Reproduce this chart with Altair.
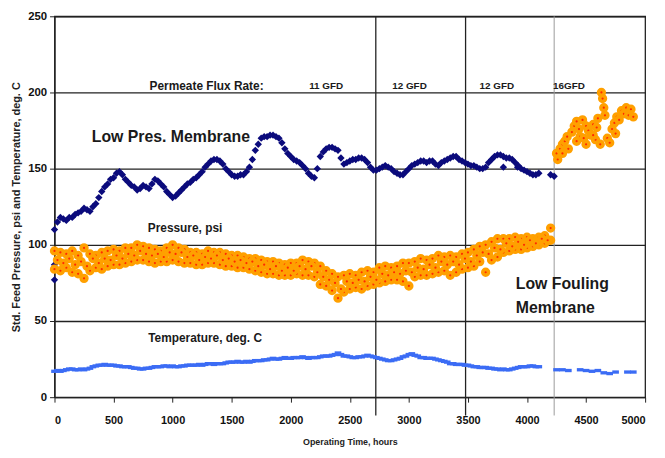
import altair as alt
import pandas as pd

# ---------------- data ----------------
# Low Pres. Membrane (navy diamonds)
navy_hours = [0, 50, 100, 150, 200, 250, 300, 350, 400, 450, 500, 550, 600, 650, 700, 750, 800, 850, 900, 950,
              1000, 1050, 1100, 1150, 1200, 1250, 1300, 1350, 1400, 1450, 1500, 1550, 1600, 1650, 1700, 1750,
              1800, 1850, 1900, 1950, 2000, 2050, 2100, 2150, 2200, 2250, 2300, 2350, 2400, 2450, 2500, 2550,
              2600, 2650, 2700, 2750, 2800, 2850, 2900, 2950, 3000, 3050, 3100, 3150, 3200, 3250, 3300, 3350,
              3400, 3450, 3500, 3550, 3600, 3650, 3700, 3750, 3800, 3850, 3900, 3950, 4000, 4050, 4100,
              4200, 4230, 0, 0, 3920, 3800]
navy_vals = [110, 118, 116, 118, 121, 124, 122, 127, 135, 140, 144, 148, 143, 139, 136, 139, 137, 143, 140, 135,
             131, 134, 138, 141, 144, 148, 153, 156, 155, 150, 146, 145, 146, 151, 162, 170,
             171, 172, 170, 163, 158, 155, 152, 147, 144, 158, 163, 164, 162, 153, 155, 156,
             157, 154, 149, 150, 152, 150, 147, 146, 150, 153, 155, 154, 155, 152, 155, 157,
             158, 155, 153, 152, 150, 151, 156, 159, 158, 157, 154, 150, 148, 146, 147,
             146, 145, 87, 77, 151, 151]
navy_mid_hours = [25, 75, 125, 175, 225, 275, 325, 375, 425, 475, 525, 575, 625, 675, 725, 775, 825, 875, 925, 975,
                  1025, 1075, 1125, 1175, 1225, 1275, 1325, 1375, 1425, 1475, 1525, 1575, 1625, 1675, 1725, 1775,
                  1825, 1875, 1925, 1975, 2025, 2075, 2125, 2175, 2225, 2275, 2325, 2375, 2425, 2475, 2525, 2575,
                  2625, 2675, 2725, 2775, 2825, 2875, 2925, 2975, 3025, 3075, 3125, 3175, 3225, 3275, 3325, 3375,
                  3425, 3475, 3525, 3575, 3625, 3675, 3725, 3775, 3825, 3875, 3925, 3975, 4025, 4075]
navy_mid_vals = [115, 117, 118, 120, 122, 123, 125, 131, 138, 143, 147, 146, 141, 138, 137, 138, 140, 142, 138, 133,
                 132, 136, 140, 143, 146, 151, 155, 156, 153, 148, 145, 146, 148, 156, 166, 171,
                 172, 171, 167, 160, 156, 154, 150, 145, 150, 161, 164, 163, 157, 154, 156, 157,
                 156, 151, 149, 151, 151, 148, 146, 148, 152, 154, 155, 155, 153, 154, 156, 158,
                 156, 154, 152, 151, 150, 154, 158, 159, 157, 156, 152, 149, 147, 146]

# Pressure, psi (orange) - upper edge, lower edge and middle of the band
pres_hours = [0, 50, 100, 150, 200, 250, 300, 350, 400, 450, 500, 550, 600, 650, 700, 750, 800, 850, 900, 950,
              1000, 1050, 1100, 1150, 1200, 1250, 1300, 1350, 1400, 1450, 1500, 1550, 1600, 1650, 1700, 1750,
              1800, 1850, 1900, 1950, 2000, 2050, 2100, 2150, 2200, 2250, 2300, 2350, 2400, 2450, 2500, 2550,
              2600, 2650, 2700, 2750, 2800, 2850, 2900, 2950, 3000, 3050, 3100, 3150, 3200, 3250, 3300, 3350,
              3400, 3450, 3500, 3550, 3600, 3650, 3700, 3750, 3800, 3850, 3900, 3950, 4000, 4050, 4100, 4150,
              4200]
pres_hi = [96, 95, 94, 96, 93, 98, 94, 93, 95, 96, 97, 96, 98, 98, 100, 99, 98, 97, 96, 98,
           100, 98, 97, 95, 95, 94, 96, 95, 95, 94, 93, 93, 92, 91, 91, 90,
           89, 89, 88, 87, 88, 88, 90, 89, 88, 86, 83, 81, 79, 80, 81, 80,
           82, 83, 82, 85, 86, 85, 86, 88, 88, 89, 91, 90, 91, 93, 92, 93,
           92, 94, 95, 97, 99, 100, 102, 104, 104, 104, 105, 104, 105, 104, 105, 106,
           111]
pres_lo = [84, 83, 85, 82, 81, 78, 83, 85, 84, 86, 87, 87, 88, 89, 90, 90, 89, 88, 89, 89,
           90, 89, 88, 88, 87, 87, 88, 88, 87, 86, 86, 85, 85, 84, 83, 82,
           81, 81, 80, 80, 80, 81, 80, 80, 79, 74, 73, 70, 65, 69, 71, 72,
           71, 73, 74, 75, 76, 77, 77, 76, 73, 79, 80, 80, 81, 82, 83, 80,
           82, 84, 85, 86, 89, 82, 90, 92, 95, 96, 97, 97, 98, 99, 100, 101,
           103]
pres_mid_hours = [25, 75, 125, 175, 225, 275, 325, 375, 425, 475, 525, 575, 625, 675, 725, 775, 825, 875, 925, 975,
                  1025, 1075, 1125, 1175, 1225, 1275, 1325, 1375, 1425, 1475, 1525, 1575, 1625, 1675, 1725, 1775,
                  1825, 1875, 1925, 1975, 2025, 2075, 2125, 2175, 2225, 2275, 2325, 2375, 2425, 2475, 2525, 2575,
                  2625, 2675, 2725, 2775, 2825, 2875, 2925, 2975, 3025, 3075, 3125, 3175, 3225, 3275, 3325, 3375,
                  3425, 3475, 3525, 3575, 3625, 3675, 3725, 3775, 3825, 3875, 3925, 3975, 4025, 4075, 4125, 4175]
pres_mid_vals = [90, 88, 91, 87, 89, 86, 91, 88, 91, 90, 93, 91, 94, 93, 96, 94, 93, 94, 92, 95,
                 94, 95, 92, 93, 90, 92, 91, 93, 90, 91, 89, 90, 88, 89, 86, 87,
                 84, 86, 83, 85, 83, 86, 84, 86, 82, 79, 77, 75, 71, 76, 75, 77,
                 76, 79, 77, 81, 80, 82, 81, 83, 82, 85, 84, 87, 85, 89, 87, 89,
                 87, 91, 89, 93, 95, 94, 98, 97, 101, 99, 102, 100, 103, 101, 104, 103]
# high-flux period (16 GFD)
pres16_hours = [4250, 4260, 4280, 4300, 4300, 4320, 4340, 4350, 4380, 4400, 4420, 4440, 4450, 4470, 4480,
                4500, 4520, 4540, 4560, 4580, 4590, 4600, 4630, 4640, 4650, 4660, 4680, 4700, 4720, 4740,
                4760, 4780, 4800, 4820, 4840, 4860, 4880, 4900, 4420, 4500, 4560, 4620, 4750]
pres16_vals = [160, 156, 163, 166, 160, 168, 171, 163, 174, 178, 181, 176, 171, 182, 170,
               178, 175, 172, 179, 169, 177, 183, 200, 196, 190, 185, 170, 167, 176, 180,
               184, 182, 188, 186, 190, 185, 189, 184, 168, 166, 172, 166, 173]

# Temperature, deg. C (blue dashes)
temp_hours = [0, 50, 100, 150, 200, 250, 300, 350, 400, 450, 500, 550, 600, 650, 700, 750, 800, 850, 900, 950,
              1000, 1050, 1100, 1150, 1200, 1250, 1300, 1350, 1400, 1450, 1500, 1550, 1600, 1650, 1700, 1750,
              1800, 1850, 1900, 1950, 2000, 2050, 2100, 2150, 2200, 2250, 2300, 2350, 2400, 2450, 2500, 2550,
              2600, 2650, 2700, 2750, 2800, 2850, 2900, 2950, 3000, 3050, 3100, 3150, 3200, 3250, 3300, 3350,
              3400, 3450, 3500, 3550, 3600, 3650, 3700, 3750, 3800, 3850, 3900, 3950, 4000, 4050, 4100,
              4250, 4300, 4350, 4450, 4500, 4550, 4600, 4650, 4700, 4750, 4850, 4900]
temp_vals = [17, 17, 18, 18.5, 18, 18, 19, 20.5, 21, 21, 21, 20.5, 20, 19.5, 19, 18.5, 19, 20, 20, 20.5,
             20.5, 20, 20.5, 21, 21, 21, 22, 21.5, 22, 22.5, 23, 23.5, 23, 23, 24, 24,
             24.5, 25.5, 25, 26, 25.5, 26, 26.5, 25.5, 26, 26.5, 27, 27.5, 29, 27, 26.5, 26,
             26.5, 27.5, 26.5, 25.5, 24.5, 24, 25, 26.5, 28, 27.5, 26, 25.5, 25.5, 24.5, 23.5, 22,
             21.5, 21.5, 21, 20, 19.5, 19.5, 19, 18.5, 18.5, 18, 19, 20, 20, 20.5, 20,
             18, 18, 17.5, 18, 17.5, 17, 17.5, 16, 15.5, 16.5, 16.5, 16.5]
temp_mid_hours = navy_mid_hours
temp_mid_vals = [17.5, 17.5, 18.5, 18, 18.5, 18.5, 20, 21, 21.5, 21, 20.5, 20, 20, 19, 18.5, 19, 19.5, 20, 20.5, 20,
                 20, 20.5, 21, 21, 21.5, 21.5, 22, 22, 22, 23, 23, 23, 23.5, 23.5, 24, 24.5,
                 25, 25, 25.5, 25.5, 26, 26, 26, 26, 26, 27, 27, 28, 28, 27, 26, 26.5,
                 27, 27, 26, 25, 24, 24.5, 25.5, 27, 28.5, 27, 26, 25.5, 25, 24, 23, 22,
                 21.5, 21, 20.5, 20, 19.5, 19, 18.5, 18, 18, 18.5, 19.5, 20, 20.5, 20]

# vertical separators between flux periods
sep_hours = [2720, 3480]
sep16_hours = [4230]

# annotation texts
flux_labels = ["11 GFD", "12 GFD", "12 GFD", "16GFD"]
flux_hours = [2300, 3005, 3745, 4355]

assert len(navy_hours) == len(navy_vals)
assert len(navy_mid_hours) == len(navy_mid_vals)
assert len(pres_hours) == len(pres_hi) == len(pres_lo)
assert len(pres_mid_hours) == len(pres_mid_vals)
assert len(pres16_hours) == len(pres16_vals)
assert len(temp_hours) == len(temp_vals)
assert len(temp_mid_hours) == len(temp_mid_vals)

# ---------------- chart ----------------
FONT = "Liberation Sans"

xs = alt.Scale(domain=[0, 5000], nice=False, zero=False)
ys = alt.Scale(domain=[0, 250], nice=False)

x_axis = alt.Axis(values=list(range(0, 5001, 500)), format="d", title="Operating Time, hours", grid=False,
                  labelFont=FONT, labelFontSize=11, labelFontWeight="bold", labelColor="#111",
                  titleFont=FONT, titleFontSize=9, titleFontWeight="bold", titleColor="#222",
                  tickSize=5, tickColor="#222", domainColor="#222", domainWidth=1.3,
                  labelPadding=13, titlePadding=12)
y_axis = alt.Axis(values=[0, 50, 100, 150, 200, 250], format="d",
                  title="Std. Feed Pressure, psi and Temperature, deg. C",
                  grid=True, gridColor="#222", gridWidth=1.3, gridOpacity=1,
                  labelFont=FONT, labelFontSize=11.5, labelFontWeight="bold", labelColor="#111",
                  titleFont=FONT, titleFontSize=11, titleFontWeight="bold", titleColor="#222",
                  tickSize=5, tickColor="#222", domainColor="#222", domainWidth=1.3,
                  labelPadding=3, titlePadding=6)

X = alt.X("h:Q", scale=xs, axis=x_axis)
Y = alt.Y("v:Q", scale=ys, axis=y_axis)

navy_df = pd.DataFrame({"h": navy_hours + navy_mid_hours, "v": navy_vals + navy_mid_vals})
pres_df = pd.DataFrame({"h": pres_hours + pres_hours + pres_mid_hours + pres16_hours,
                        "v": pres_hi + pres_lo + pres_mid_vals + pres16_vals})
temp_df = pd.DataFrame({"h": temp_hours + temp_mid_hours, "v": temp_vals + temp_mid_vals})

navy = alt.Chart(navy_df).mark_point(shape="diamond", filled=True, color="#0b0b7c", size=55, opacity=1).encode(
    x=X, y=Y)

pres = alt.Chart(pres_df).mark_circle(size=34, color="#ff2a00", stroke="#ffa000", strokeWidth=3.6, opacity=1).encode(
    x=X, y=Y)

temp = alt.Chart(temp_df).mark_point(shape="M-1,-0.5L1,-0.5L1,0.5L-1,0.5Z", filled=True,
                                     color="#3b6cf5", size=45, opacity=1).encode(x=X, y=Y)

sep_df = pd.DataFrame({"h": sep_hours, "v": [250] * len(sep_hours), "bot": [-12] * len(sep_hours)})
sep = alt.Chart(sep_df).mark_rule(color="#222", strokeWidth=1.3).encode(x=X, y=Y, y2="bot:Q")
sep16_df = pd.DataFrame({"h": sep16_hours, "v": [250], "bot": [-12]})
sep16 = alt.Chart(sep16_df).mark_rule(color="#9a9a9a", strokeWidth=1).encode(x=X, y=Y, y2="bot:Q")


def label(texts, hs, vs, size, align="center", font=FONT):
    df = pd.DataFrame({"t": texts, "h": hs, "v": vs})
    return alt.Chart(df).mark_text(font=font, fontSize=size, fontWeight="bold", color="#1a1a1a",
                                   align=align, baseline="middle").encode(x=X, y=Y, text="t:N")


flux_title = label(["Permeate Flux Rate:"], [805], [204.5], 12, align="left")
flux = label(flux_labels, flux_hours, [204.5] * 4, 10)
big1 = label(["Low Pres. Membrane"], [985], [171], 16)
big2 = label(["Low Fouling", "Membrane"], [3905, 3905], [74.5, 58.5], 16, align="left")
small = label(["Pressure, psi", "Temperature, deg. C"], [1105, 1275], [111, 39], 12)

chart = alt.layer(sep, sep16, navy, pres, temp, flux_title, flux, big1, big2, small).properties(
    width=597, height=385,
    autosize=alt.AutoSizeParams(type="none"),
    padding={"left": 47, "top": 6, "right": 12, "bottom": 51},
    background="white",
).configure_view(stroke="#222", strokeWidth=1.3)

chart.save("out.html", embed_options={"renderer": "svg", "actions": False})
